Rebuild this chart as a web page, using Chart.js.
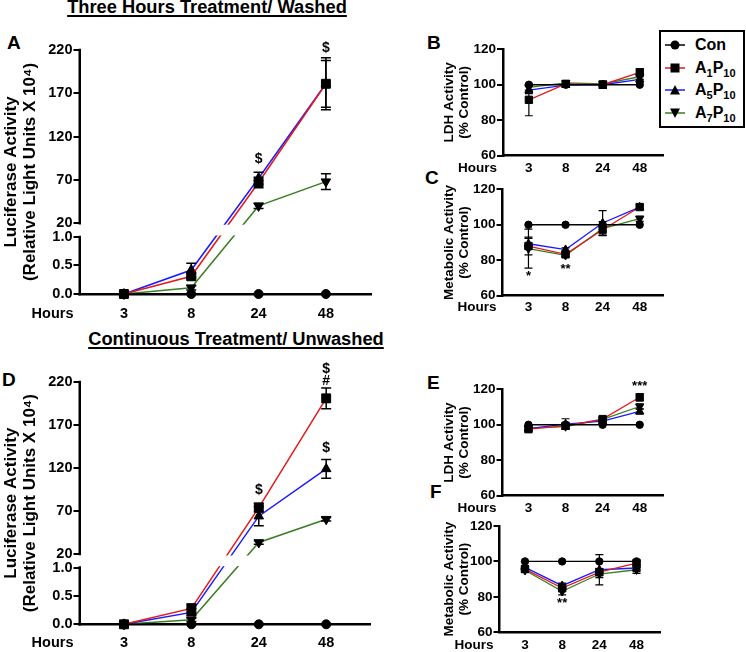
<!DOCTYPE html>
<html>
<head>
<meta charset="utf-8">
<title>Luciferase, LDH and metabolic activity</title>
<script src="https://cdn.jsdelivr.net/npm/chart.js@4.4.1/dist/chart.umd.min.js"></script>
<style>
  body { margin: 0; width: 746px; height: 652px; position: relative; overflow: hidden; background: #fff;
         font-family: "Liberation Sans", Arial, sans-serif; font-weight: bold; color: #000; }
  .title { position: absolute; width: 400px; text-align: center; font-size: 18.3px; line-height: 18px;
           text-decoration: underline; text-decoration-thickness: 2px; text-underline-offset: 2px; }
  .letter { position: absolute; font-size: 19px; line-height: 18px; }
  canvas { position: absolute; }
  #legend { position: absolute; left: 659px; top: 30px; width: 82px; height: 94px; border: 2px solid #000; }
  .entry { position: absolute; left: 0; height: 20px; display: flex; align-items: center; font-size: 16px; white-space: nowrap; }
  .entry svg { margin-left: 4px; margin-right: 10px; }
  sub { font-size: 11px; vertical-align: -4px; line-height: 0; }
</style>
</head>
<body>
<div class="title" style="left:7px;top:-2px">Three Hours Treatment/ Washed</div>
<div class="title" style="left:36px;top:329.6px">Continuous Treatment/ Unwashed</div>
<div class="letter" style="left:7px;top:34px">A</div>
<div class="letter" style="left:427px;top:34px">B</div>
<div class="letter" style="left:425px;top:169px">C</div>
<div class="letter" style="left:2px;top:371px">D</div>
<div class="letter" style="left:427px;top:374px">E</div>
<div class="letter" style="left:430px;top:483px">F</div>
<div id="legend"></div>
<script>
const hours = ['3', '8', '24', '48'];
const seriesLabels = ['Con', 'A<sub>1</sub>P<sub>10</sub>', 'A<sub>5</sub>P<sub>10</sub>', 'A<sub>7</sub>P<sub>10</sub>'];
const seriesColors = ['#000000', '#e31a1c', '#1a1aff', '#3a7d22'];
const seriesPoints = ['circle', 'rect', 'triangle', 'triangle'];
const seriesRotation = [0, 0, 0, 180];

const lucTicks = [0, 0.5, 1, 20, 70, 120, 170, 220];
const pctTicks = [60, 80, 100, 120];

// rows: Con, A1P10, A5P10, A7P10 ; columns: 3, 8, 24, 48 h
// A - luciferase, 3 h treatment then washed (RLU x 10^4)
const lucWashed = [
  [0, 0, 0, 0],
  [0, 0.31, 67, 181],
  [0, 0.42, 72, 181],
  [0, 0.11, 40, 68]
];
const lucWashedErr = [
  [0, 0, 0, 0],
  [0, 0.04, 6, 27],
  [0, 0.12, 7, 30],
  [0, 0.04, 3, 9]
];
const lucWashedMarks = [[2, 94, '$'], [3, 222, '$']];

// B - LDH, washed (% control)
const ldhWashed = [
  [100, 100, 100, 100],
  [91.5, 100.5, 100, 107],
  [97, 99.8, 100, 103],
  [98.5, 101, 100.5, 104.5]
];
const ldhWashedErr = [
  [0, 0, 0, 0],
  [9, 1.5, 2, 2],
  [2, 1, 2, 1.5],
  [1.5, 1, 1, 1.5]
];

// C - metabolic activity, washed (% control)
const metWashed = [
  [100, 100, 100, 100],
  [88, 83.3, 97.2, 110],
  [89.3, 86, 101, 110],
  [86.5, 82.8, 97.8, 103.4]
];
const metWashedErr = [
  [0, 0, 0, 0],
  [5, 1, 3, 1.5],
  [3, 1, 7, 1],
  [11, 1, 4, 1.5]
];
const metWashedMarks = [[0, 71, '*'], [1, 75, '**']];

// D - luciferase, continuous / unwashed
const lucCont = [
  [0, 0, 0, 0],
  [0, 0.28, 74, 201],
  [0, 0.21, 64, 119],
  [0, 0.08, 33.5, 60.5]
];
const lucContErr = [
  [0, 0, 0, 0],
  [0, 0.08, 5, 12],
  [0, 0.06, 11, 11],
  [0, 0.03, 2, 2]
];
const lucContMarks = [[2, 94, '$'], [3, 235, '$'], [3, 221, '#'], [3, 143, '$']];

// E - LDH, continuous
const ldhCont = [
  [100, 100, 100, 100],
  [97.5, 99.4, 103.2, 115.5],
  [97.8, 100.4, 102, 107.5],
  [98.2, 99, 103, 110.3]
];
const ldhContErr = [
  [0, 0, 0, 0],
  [1, 1.5, 1, 2],
  [1, 3, 1, 1.5],
  [1, 1.5, 1, 1.5]
];
const ldhContMarks = [[3, 121.5, '***']];

// F - metabolic activity, continuous
const metCont = [
  [100, 100, 100, 100],
  [95.7, 85, 94, 99.1],
  [96.6, 86.3, 95.3, 96.3],
  [95, 83.1, 92.9, 95.3]
];
const metContErr = [
  [0, 0, 0, 0],
  [1, 2, 2, 1.5],
  [1, 1.5, 8.5, 2],
  [1, 2, 2, 2]
];
const metContMarks = [[1, 76.5, '**']];

const FONT = '"Liberation Sans", Arial, sans-serif';

// split y axis: 0-1 below the break, 20-220 above it
const LOW_FRAC = 0.234;
const GAP_FRAC = 0.056;
class BrokenScale extends Chart.LinearScale {
  static id = 'broken';
  buildTicks() {
    this.start = this.min;
    this.end = this.max;
    return lucTicks.map(v => ({ value: v }));
  }
  breakDecimal(v) {
    if (v <= 1) return v * LOW_FRAC;
    if (v < 20) return LOW_FRAC + (v - 1) / 19 * GAP_FRAC;
    return LOW_FRAC + GAP_FRAC + (v - 20) / 200 * (1 - LOW_FRAC - GAP_FRAC);
  }
  getPixelForValue(v) {
    return this.getPixelForDecimal(this.breakDecimal(v));
  }
  getValueForPixel(p) {
    const d = this.getDecimalForPixel(p);
    if (d <= LOW_FRAC) return d / LOW_FRAC;
    if (d < LOW_FRAC + GAP_FRAC) return 1 + (d - LOW_FRAC) / GAP_FRAC * 19;
    return 20 + (d - LOW_FRAC - GAP_FRAC) / (1 - LOW_FRAC - GAP_FRAC) * 200;
  }
}
Chart.register(BrokenScale);

function overlay(marks, broken, big) {
  return {
    id: 'overlay',
    afterDatasetsDraw(chart) {
      const { ctx, chartArea, scales: { x, y } } = chart;
      ctx.save();
      if (broken) {
        const top = y.getPixelForValue(20) + 1.5;
        const bottom = y.getPixelForValue(1) - 1.5;
        ctx.fillStyle = '#fff';
        ctx.fillRect(chartArea.left + 2, top, chartArea.right - chartArea.left, bottom - top);
      }
      const cap = big ? 5 : 4;
      ctx.strokeStyle = '#000';
      ctx.lineWidth = big ? 1.5 : 1.2;
      chart.data.datasets.forEach(ds => {
        ds.data.forEach((p, i) => {
          const e = ds.errors[i];
          if (!e) return;
          const px = x.getPixelForValue(p.x);
          const hi = y.getPixelForValue(p.y + e);
          const lo = y.getPixelForValue(p.y - e);
          ctx.beginPath();
          ctx.moveTo(px, hi); ctx.lineTo(px, lo);
          ctx.moveTo(px - cap, hi); ctx.lineTo(px + cap, hi);
          ctx.moveTo(px - cap, lo); ctx.lineTo(px + cap, lo);
          ctx.stroke();
        });
      });
      ctx.fillStyle = '#000';
      ctx.textAlign = 'center';
      ctx.textBaseline = 'middle';
      marks.forEach(([i, v, t]) => {
        ctx.font = 'bold ' + (t === '$' || t === '#' ? (big ? 14 : 13) : 13) + 'px ' + FONT;
        ctx.fillText(t, x.getPixelForValue(i), y.getPixelForValue(v));
      });
      ctx.restore();
    },
    afterDraw(chart) {
      const { ctx, chartArea, scales: { x, y } } = chart;
      ctx.save();
      if (broken) {
        ctx.strokeStyle = '#000';
        ctx.lineWidth = 2.5;
        const lx = Math.round(chartArea.left) - 0.25;
        ctx.beginPath();
        ctx.moveTo(lx, chartArea.bottom + 1.25); ctx.lineTo(lx, y.getPixelForValue(1) - 1.25);
        ctx.moveTo(lx, y.getPixelForValue(20) + 1.25); ctx.lineTo(lx, chartArea.top - 1.25);
        ctx.stroke();
      }
      // "Hours" caption, level with the x tick labels
      const item = x.getLabelItems()[0];
      ctx.font = 'bold ' + (big ? 14.5 : 13.5) + 'px ' + FONT;
      ctx.fillStyle = '#000';
      ctx.textAlign = 'right';
      ctx.textBaseline = item.options.textBaseline;
      ctx.fillText('Hours', chartArea.left - 6, item.options.translation[1] + item.textOffset);
      ctx.restore();
    }
  };
}

function makePanel(cfg) {
  const [bl, bt, bw, bh] = cfg.box;
  const [al, at, ar, ab] = cfg.area;
  const big = cfg.big;
  const canvas = document.createElement('canvas');
  canvas.width = bw;
  canvas.height = bh;
  canvas.style.left = bl + 'px';
  canvas.style.top = bt + 'px';
  document.body.appendChild(canvas);

  const tickFont = { family: FONT, weight: 'bold', size: big ? 14.5 : 13.5 };
  const datasets = cfg.values.map((vals, k) => ({
    data: vals.map((v, i) => ({ x: i, y: v })),
    errors: cfg.errors[k],
    borderColor: seriesColors[k],
    borderWidth: big ? 1.5 : 1.3,
    backgroundColor: '#000',
    pointBackgroundColor: '#000',
    pointBorderColor: '#000',
    pointBorderWidth: 1,
    pointStyle: seriesPoints[k],
    pointRotation: seriesRotation[k],
    pointRadius: [big ? 4.5 : 3.7, big ? 6.3 : 5.2, big ? 5.5 : 4.7, big ? 5.5 : 4.7][k],
    tension: 0,
    fill: false,
    clip: false
  }));

  const yScale = {
    type: cfg.broken ? 'broken' : 'linear',
    min: cfg.broken ? 0 : 60,
    max: cfg.broken ? 220 : 120,
    afterFit: s => { s.width = al - bl; },
    grid: { display: true, drawOnChartArea: false, drawTicks: true, tickLength: 6, color: '#000', lineWidth: 2 },
    border: { display: !cfg.broken, color: '#000', width: 2.5 },
    ticks: {
      autoSkip: false,
      color: '#000',
      font: tickFont,
      padding: 1,
      callback: v => (cfg.broken && v <= 1 ? v.toFixed(1) : String(v))
    },
    title: {
      display: true,
      text: cfg.title,
      color: '#000',
      font: { family: FONT, weight: 'bold', size: big ? 17 : 13.5, lineHeight: big ? 1.12 : 1.067 },
      padding: { top: big ? 1.5 : 22.3, bottom: 0 }
    }
  };
  if (!cfg.broken) {
    yScale.afterBuildTicks = s => { s.ticks = pctTicks.map(v => ({ value: v })); };
  }

  return new Chart(canvas, {
    type: 'line',
    data: { datasets },
    options: {
      responsive: false,
      animation: false,
      events: [],
      layout: { padding: { left: 0, top: at - bt, right: bl + bw - ar, bottom: 0 } },
      plugins: { legend: { display: false }, tooltip: { enabled: false } },
      scales: {
        x: {
          type: 'linear',
          min: cfg.xRange[0],
          max: cfg.xRange[1],
          afterBuildTicks: s => { s.ticks = hours.map((h, i) => ({ value: i })); },
          afterFit: s => { s.height = bt + bh - ab; },
          grid: { display: false, drawTicks: false },
          border: { display: true, color: '#000', width: 2.5 },
          ticks: { color: '#000', font: tickFont, padding: cfg.labelGap, maxRotation: 0, callback: v => hours[v] }
        },
        y: yScale
      }
    },
    plugins: [overlay(cfg.marks || [], cfg.broken, big)]
  });
}

const lucTitle = ['Luciferase Activity', '(Relative Light Units X 10\u2074)'];
const ldhTitle = ['LDH Activity', '(% Control)'];
const metTitle = ['Metabolic Activity', '(% Control)'];

makePanel({ box: [0, 30, 380, 300], area: [79.5, 50, 371, 294], xRange: [-0.66, 3.67], big: true, broken: true, labelGap: 11,
  values: lucWashed, errors: lucWashedErr, marks: lucWashedMarks, title: lucTitle });
makePanel({ box: [0, 362, 380, 290], area: [79.5, 382, 370, 624.3], xRange: [-0.66, 3.65], big: true, broken: true, labelGap: 9.5,
  values: lucCont, errors: lucContErr, marks: lucContMarks, title: lucTitle });
makePanel({ box: [420, 35, 250, 145], area: [503, 49.3, 664, 155.6], xRange: [-0.7, 3.65], labelGap: 5,
  values: ldhWashed, errors: ldhWashedErr, title: ldhTitle });
makePanel({ box: [420, 175, 250, 140], area: [502.5, 189.3, 664, 295.7], xRange: [-0.7, 3.65], labelGap: 3.6,
  values: metWashed, errors: metWashedErr, marks: metWashedMarks, title: metTitle });
makePanel({ box: [420, 375, 250, 140], area: [502.5, 389.3, 664, 495.7], xRange: [-0.7, 3.65], labelGap: 4.6,
  values: ldhCont, errors: ldhContErr, marks: ldhContMarks, title: ldhTitle });
makePanel({ box: [420, 512, 250, 140], area: [499.5, 526, 660.5, 632.3], xRange: [-0.685, 3.645], labelGap: 5,
  values: metCont, errors: metContErr, marks: metContMarks, title: metTitle });

// legend box
const legend = document.getElementById('legend');
const markerSvg = [
  '<circle cx="10" cy="6" r="4.5" fill="#000"/>',
  '<rect x="5.5" y="1.5" width="9" height="9" fill="#000"/>',
  '<polygon points="10,1 15,10.5 5,10.5" fill="#000"/>',
  '<polygon points="10,11 15,1.5 5,1.5" fill="#000"/>'
];
[3, 26, 48, 71].forEach((top, k) => {
  const row = document.createElement('div');
  row.className = 'entry';
  row.style.top = top + 'px';
  row.innerHTML = '<svg width="20" height="12" viewBox="0 0 20 12"><line x1="0" y1="6" x2="20" y2="6" stroke="' +
    seriesColors[k] + '" stroke-width="1.5"/>' + markerSvg[k] + '</svg><span>' + seriesLabels[k] + '</span>';
  legend.appendChild(row);
});
</script>
</body>
</html>
